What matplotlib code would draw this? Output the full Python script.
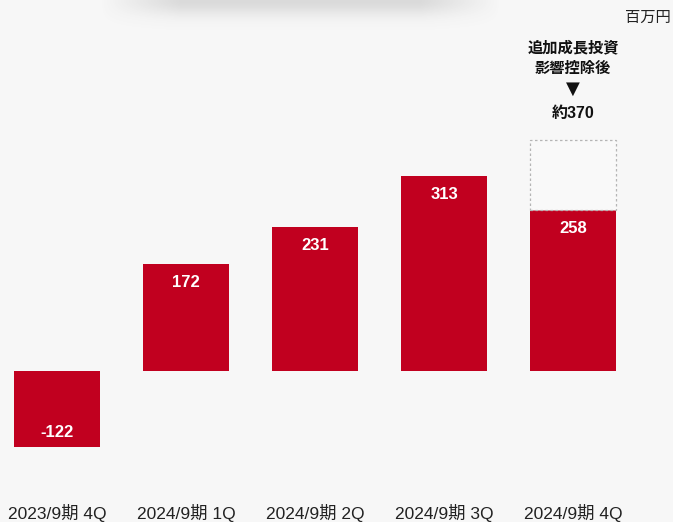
import numpy as np
import matplotlib
matplotlib.use("Agg")
import matplotlib.pyplot as plt
from matplotlib.patches import Rectangle

plt.rcParams['font.family'] = ['Noto Sans CJK JP', 'DejaVu Sans']

categories = ["2023/9期 4Q", "2024/9期 1Q", "2024/9期 2Q", "2024/9期 3Q", "2024/9期 4Q"]
values = [-122, 172, 231, 313, 258]
adjusted_value = 370
unit_label = "百万円"
note_lines = ["追加成長投資", "影響控除後"]

bar_color = "#c1001f"
bg = "#f7f7f7"

fig = plt.figure(figsize=(6.73, 5.22), dpi=100)
fig.patch.set_facecolor(bg)

# soft shadow at the top edge
sh = fig.add_axes([0, 0, 1, 1], zorder=0)
sh.set_axis_off()
h, w = 522, 673
yy, xx = np.mgrid[0:h, 0:w]
edge = np.clip((xx - 100) / 80, 0, 1) * np.clip((500 - xx) / 80, 0, 1)
fade = np.exp(-(yy / 15.0) ** 2)
alpha = 0.2 * edge * fade
img = np.zeros((h, w, 4))
img[..., :3] = 0.4
img[..., 3] = alpha
sh.imshow(img, extent=[0, 1, 0, 1], aspect="auto", origin="upper")
sh.set_xlim(0, 1)
sh.set_ylim(0, 1)

ax = fig.add_axes([0, 0, 1, 1], zorder=1)
ax.set_facecolor("none")
ax.set_axis_off()
ax.set_xlim(-0.442, 4.775)
ax.set_ylim(-242.4, 595.5)

x = np.arange(len(values))
width = 0.66
ax.bar(x, values, width=width, color=bar_color, zorder=2)

# dashed box for adjusted value
last = x[-1]
ax.add_patch(Rectangle((last - width / 2, values[-1]), width, adjusted_value - values[-1],
                       facecolor="#f9f9f9", edgecolor="#b5b5b5", linestyle=(0, (2, 2)),
                       linewidth=0.9, zorder=3))

num_font = ['Liberation Sans', 'Noto Sans CJK JP']
for xi, v in zip(x, values):
    if v >= 0:
        ax.text(xi, v - 30, str(v), ha="center", va="center", color="white",
                fontsize=12, fontweight="bold", family=num_font, zorder=4)
    else:
        ax.text(xi, v + 23, str(v), ha="center", va="center", color="white",
                fontsize=12, fontweight="bold", family=num_font, zorder=4)

for xi, c in zip(x, categories):
    ax.text(xi, 0.018, c, transform=ax.get_xaxis_transform(), ha="center", va="center",
            fontsize=12.5, color="#222222", family=num_font)

ax.text(0.996, 0.967, unit_label, transform=ax.transAxes, ha="right", va="center",
        fontsize=11, color="#222222")

ax.text(last, 0.91, note_lines[0], transform=ax.get_xaxis_transform(), ha="center",
        va="center", fontsize=11, fontweight="bold", color="#111111")
ax.text(last, 0.869, note_lines[1], transform=ax.get_xaxis_transform(), ha="center",
        va="center", fontsize=11, fontweight="bold", color="#111111")
ax.text(last, 0.829, "▼", transform=ax.get_xaxis_transform(), ha="center",
        va="center", fontsize=13, color="#111111", family=['DejaVu Sans'])
ax.text(last, 0.783, "約" + str(adjusted_value), transform=ax.get_xaxis_transform(),
        ha="center", va="center", fontsize=11.5, fontweight="bold", color="#111111",
        family=num_font)

fig.savefig("out.png", dpi=100, facecolor=bg)
